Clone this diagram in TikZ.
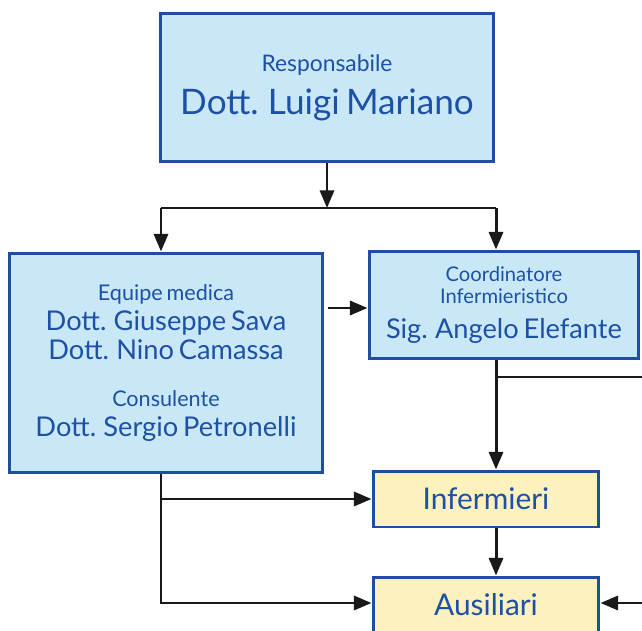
\documentclass[tikz,border=0pt]{standalone}
\usepackage{fontspec}
\setmainfont{Lato}[WordSpace=0.7]
\usetikzlibrary{positioning,calc,arrows.meta}

\definecolor{boxline}{RGB}{31,78,160}
\definecolor{boxtext}{RGB}{30,80,165}
\definecolor{bluefill}{RGB}{200,232,248}
\definecolor{yellowfill}{RGB}{253,241,190}

\newcommand{\rolefont}{\fontsize{12.3pt}{15pt}\selectfont}

\tikzset{
  orgbox/.style={draw=boxline, line width=1.7pt, text=boxtext, align=center, inner sep=0pt},
  bluebox/.style={orgbox, fill=bluefill},
  yellowbox/.style={orgbox, fill=yellowfill},
  link/.style={line width=1.7pt, black!90},
  arr/.style={link, -{Triangle[length=10pt,width=8pt]}},
}

\begin{document}
\begin{tikzpicture}[x=0.02cm, y=-0.02cm]
\useasboundingbox (0,0) rectangle (642,631);

% boxes
\node[bluebox, minimum width=6.68cm, minimum height=2.98cm,
      font={\fontsize{20pt}{24.4pt}\selectfont}] (resp) at (327,87.5)
  {{\fontsize{13pt}{15pt}\selectfont Responsabile}\\ Dott. Luigi Mariano};
\node[bluebox, minimum width=6.28cm, minimum height=4.4cm,
      font={\fontsize{15.5pt}{16.8pt}\selectfont}] (equipe) at (166,363)
  {{\rolefont Equipe medica}\\ Dott. Giuseppe Sava\\ Dott. Nino Camassa\\[9.7pt]
   {\rolefont Consulente}\\ Dott. Sergio Petronelli};
\node[bluebox, minimum width=5.4cm, minimum height=2.16cm,
      font={\fontsize{15.5pt}{12.3pt}\selectfont}] (coord) at (504,305)
  {{\fontsize{11.5pt}{13pt}\selectfont Coordinatore}\\
   {\fontsize{11.5pt}{13pt}\selectfont Infermieristico}\\[7.5pt] Sig. Angelo Elefante};
\node[yellowbox, minimum width=4.52cm, minimum height=1.12cm,
      font={\fontsize{17pt}{20pt}\selectfont}] (infer) at (486,499) {Infermieri};
\node[yellowbox, minimum width=4.52cm, minimum height=1.12cm,
      font={\fontsize{17pt}{20pt}\selectfont}] (ausil) at (486,605) {Ausiliari};

% bus points
\coordinate (split) at (327,208);
\coordinate (lbus) at (161,208);
\coordinate (rbus) at (496,208);
\coordinate (mid) at (0,308);
\coordinate (edgeA) at (642,377);
\coordinate (edgeB) at (642,603);

% connectors
\draw[arr] (resp) -- (split);
\draw[link] (lbus) -- (rbus);
\draw[arr] (lbus) -- (lbus |- equipe.north);
\draw[arr] (rbus) -- (rbus |- coord.north);
\draw[arr, shorten <=2pt] (equipe.east |- mid) -- (coord.west |- mid);
\draw[arr] (rbus |- coord.south) -- (rbus |- infer.north);
\draw[link] (rbus |- edgeA) -- (edgeA);
\draw[arr] (rbus |- infer.south) -- (rbus |- ausil.north);
\draw[arr] (edgeB) -- (ausil.east |- edgeB);
\draw[arr] (lbus |- equipe.south) |- (ausil.west |- edgeB);
\draw[arr] (lbus |- infer.west) -- (infer.west);
\end{tikzpicture}
\end{document}
